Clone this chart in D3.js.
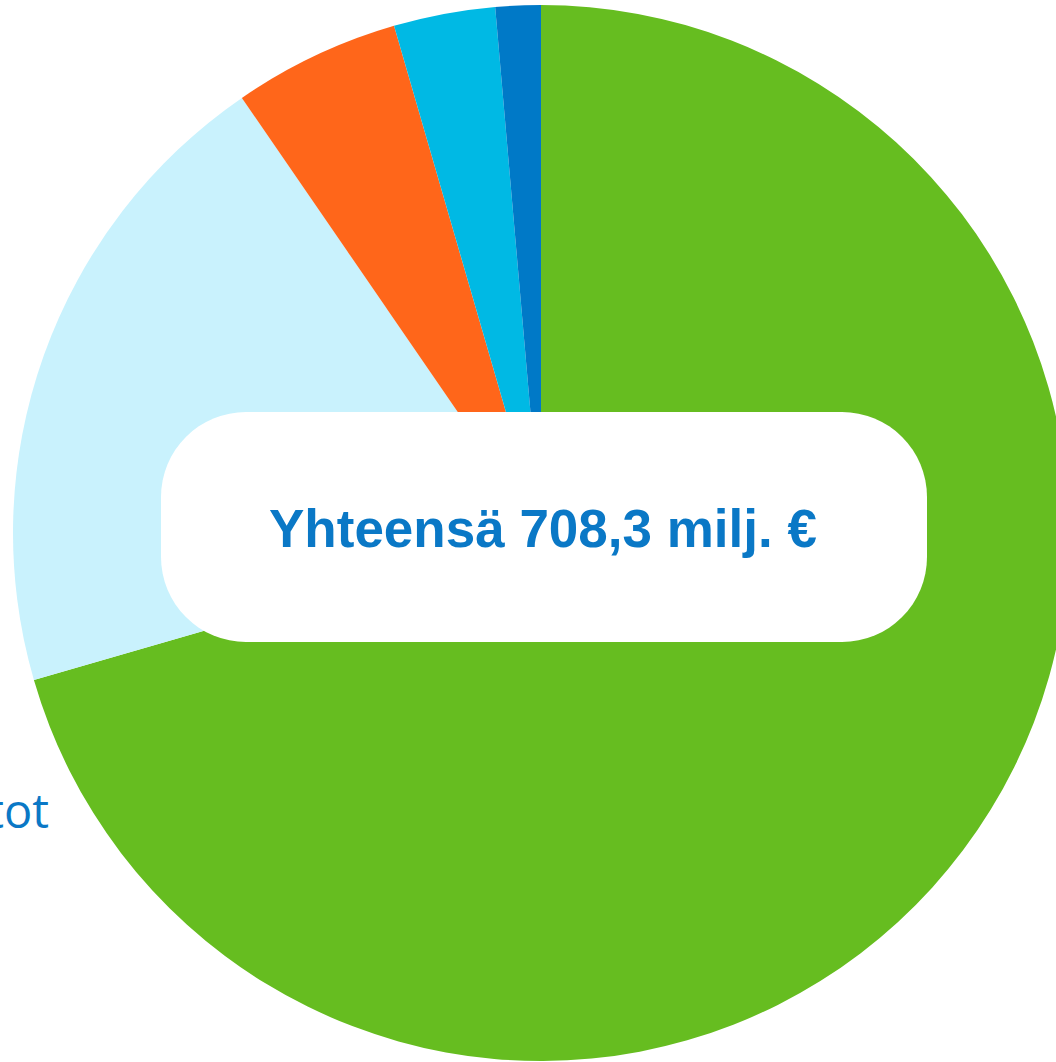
<!DOCTYPE html>
<html>
<head>
<script src="https://d3js.org/d3.v7.min.js"></script>
<style>
  body { margin: 0; background: #fff; overflow: hidden; }
  svg { display: block; font-family: "Liberation Sans", Arial, sans-serif; }
</style>
</head>
<body>
<div id="chart"></div>
<script>
var categories = ["Osa 1", "Osa 2", "Osa 3", "Osa 4", "Osa 5"];
var values = [499.4, 141.0, 36.1, 22.0, 9.8];
var colors = ["#66bd20", "#c9f2fd", "#ff661a", "#00b9e4", "#0079c7"];
var totalLabel = "Yhteensä 708,3 milj. €";
var sideLabel = "Muut tuotot";

var width = 1056, height = 1062,
    cx = 541, cy = 533, radius = 528;

var data = categories.map(function (c, i) { return { name: c, value: values[i] }; });

var svg = d3.select("#chart").append("svg")
    .attr("width", width).attr("height", height);

var pie = d3.pie().sort(null).value(function (d) { return d.value; });
var arc = d3.arc().innerRadius(0).outerRadius(radius);
var color = d3.scaleOrdinal().domain(categories).range(colors);

var g = svg.append("g").attr("transform", "translate(" + cx + "," + cy + ")");

g.selectAll("path").data(pie(data)).enter().append("path")
    .attr("d", arc)
    .attr("fill", function (d) { return color(d.data.name); });

// white rounded box with total
svg.append("rect")
    .attr("x", 161).attr("y", 412)
    .attr("width", 766).attr("height", 230)
    .attr("rx", 85).attr("ry", 85)
    .attr("fill", "#fff");

svg.append("text")
    .attr("x", 543).attr("y", 547)
    .attr("text-anchor", "middle")
    .attr("font-size", 53).attr("font-weight", "bold")
    .attr("fill", "#0a78c6")
    .text(totalLabel);

// side label (mostly outside the view, as in the source)
svg.append("text")
    .attr("x", 49).attr("y", 828)
    .attr("text-anchor", "end")
    .attr("font-family", "'Open Sans', 'DejaVu Sans', sans-serif")
    .attr("font-size", 47)
    .attr("fill", "#0a78c6")
    .text(sideLabel);
</script>
</body>
</html>
